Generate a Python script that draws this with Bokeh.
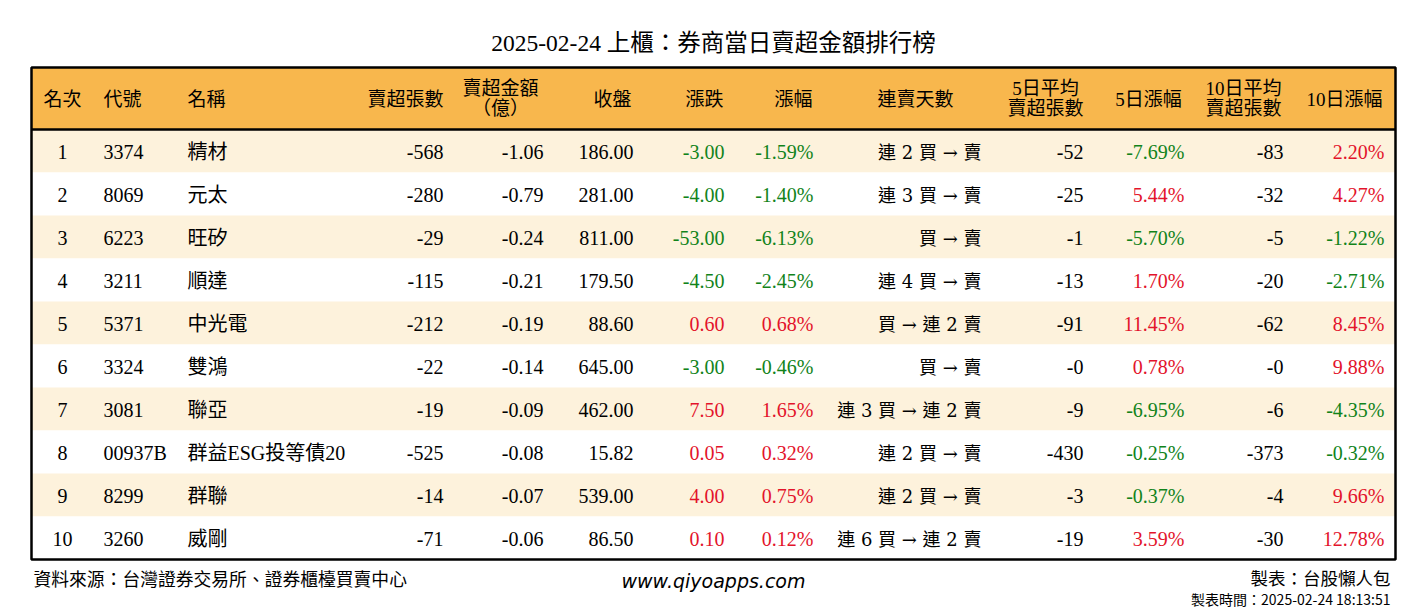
from bokeh.plotting import figure
from bokeh.models import Range1d, ColumnDataSource
from bokeh.core.properties import value
from bokeh.embed import file_html
from bokeh.resources import INLINE

title = "2025-02-24 上櫃：券商當日賣超金額排行榜"
ranks = [str(i) for i in range(1, 11)]
codes = ["3374", "8069", "6223", "3211", "5371", "3324", "3081", "00937B", "8299", "3260"]
names = ["精材", "元太", "旺矽", "順達", "中光電", "雙鴻", "聯亞", "群益ESG投等債20", "群聯", "威剛"]
sell_lots = [-568, -280, -29, -115, -212, -22, -19, -525, -14, -71]
sell_amt = [-1.06, -0.79, -0.24, -0.21, -0.19, -0.14, -0.09, -0.08, -0.07, -0.06]
close = [186.00, 281.00, 811.00, 179.50, 88.60, 645.00, 462.00, 15.82, 539.00, 86.50]
change = [-3.00, -4.00, -53.00, -4.50, 0.60, -3.00, 7.50, 0.05, 4.00, 0.10]
pct = [-1.59, -1.40, -6.13, -2.45, 0.68, -0.46, 1.65, 0.32, 0.75, 0.12]
streak = ["連 2 買 → 賣", "連 3 買 → 賣", "買 → 賣", "連 4 買 → 賣", "買 → 連 2 賣",
          "買 → 賣", "連 3 買 → 連 2 賣", "連 2 買 → 賣", "連 2 買 → 賣", "連 6 買 → 連 2 賣"]
avg5 = ["-52", "-25", "-1", "-13", "-91", "-0", "-9", "-430", "-3", "-19"]
pct5 = [-7.69, 5.44, -5.70, 1.70, 11.45, 0.78, -6.95, -0.25, -0.37, 3.59]
avg10 = ["-83", "-32", "-5", "-20", "-62", "-0", "-6", "-373", "-4", "-30"]
pct10 = [2.20, 4.27, -1.22, -2.71, 8.45, 9.88, -4.35, -0.32, 9.66, 12.78]
headers = [["名次"], ["代號"], ["名稱"], ["賣超張數"], ["賣超金額", "（億）"], ["收盤"], ["漲跌"],
           ["漲幅"], ["連賣天數"], ["5日平均", "賣超張數"], ["5日漲幅"], ["10日平均", "賣超張數"], ["10日漲幅"]]
source_note = "資料來源：台灣證券交易所、證券櫃檯買賣中心"
site = "www.qiyoapps.com"
maker = "製表：台股懶人包"
made_time = "製表時間：2025-02-24 18:13:51"

W, H = 1426, 612
FONT = value("Liberation Serif, 'Noto Sans CJK TC', serif")
STREAK_FONT = value("'DejaVu Serif', 'Noto Sans CJK TC', serif")
GREEN = "#11831a"
RED = "#e3132b"
ORANGE = "#f8b74d"
CREAM = "#fdf2dc"

# layout
tx0, tx1, ty0 = 31, 1395, 67
head_h = 62
row_h = 43
hy1 = ty0 + head_h
ty1 = hy1 + row_h * len(ranks)

# column anchor x, alignment for body, header anchor x, header alignment
cols = [
    (62, "center", 62, "center"),
    (103, "left", 103, "left"),
    (187, "left", 187, "left"),
    (443, "right", 443, "right"),
    (543, "right", 500, "center"),
    (633, "right", 612, "center"),
    (724, "right", 704, "center"),
    (813, "right", 793, "center"),
    (981, "right", 915, "center"),
    (1083, "right", 1045, "center"),
    (1184, "right", 1148, "center"),
    (1283, "right", 1243, "center"),
    (1384, "right", 1344, "center"),
]

p = figure(width=W, height=H, output_backend="svg", toolbar_location=None,
           x_range=Range1d(0, W), y_range=Range1d(H, 0), min_border=0)
p.axis.visible = False
p.grid.visible = False
p.outline_line_color = None
p.background_fill_color = "white"

# header background
p.quad(left=[tx0], right=[tx1], top=[ty0], bottom=[hy1], fill_color=ORANGE, line_color=None)

# row stripes
n = len(ranks)
tops = [hy1 + i * row_h for i in range(n)]
bots = [t + row_h for t in tops]
fills = [CREAM if i % 2 == 0 else "white" for i in range(n)]
p.quad(left=[tx0] * n, right=[tx1] * n, top=tops, bottom=bots, fill_color=fills, line_color=None)

# header bottom line & frame
p.segment(x0=[tx0], x1=[tx1], y0=[hy1], y1=[hy1], line_color="black", line_width=2.5)
p.quad(left=[tx0], right=[tx1], top=[ty0], bottom=[ty1], fill_color=None, line_color="black", line_width=2.5)

# header texts
hcy = ty0 + head_h / 2
for (bx, balign, hx, halign), lines in zip(cols, headers):
    if len(lines) == 1:
        ys = [hcy + 1]
    else:
        ys = [hcy - 10, hcy + 10]
    p.text(x=[hx] * len(lines), y=ys, text=lines, text_font=FONT, text_font_size="19px",
           text_align=halign, text_baseline="middle", text_color="black")

def signed_color(v):
    return GREEN if v < 0 else RED

row_y = [t + row_h / 2 + 1 for t in tops]
columns_text = [
    (ranks, ["black"] * n),
    (codes, ["black"] * n),
    (names, ["black"] * n),
    ([str(v) for v in sell_lots], ["black"] * n),
    ([f"{v:.2f}" for v in sell_amt], ["black"] * n),
    ([f"{v:.2f}" for v in close], ["black"] * n),
    ([f"{v:.2f}" for v in change], [signed_color(v) for v in change]),
    ([f"{v:.2f}%" for v in pct], [signed_color(v) for v in pct]),
    (streak, ["black"] * n),
    (avg5, ["black"] * n),
    ([f"{v:.2f}%" for v in pct5], [signed_color(v) for v in pct5]),
    (avg10, ["black"] * n),
    ([f"{v:.2f}%" for v in pct10], [signed_color(v) for v in pct10]),
]
for i, ((bx, balign, hx, halign), (txt, colors)) in enumerate(zip(cols, columns_text)):
    src = ColumnDataSource(dict(x=[bx] * n, y=row_y, t=txt, c=colors))
    p.text(x="x", y="y", text="t", text_color="c", source=src,
           text_font=STREAK_FONT if i == 8 else FONT,
           text_font_size="18px" if i == 8 else "20px",
           text_align=balign, text_baseline="middle")

# title
p.text(x=[713], y=[42], text=[title], text_font=FONT, text_font_size="23.5px",
       text_align="center", text_baseline="middle", text_color="black")

# footer
p.text(x=[33], y=[577], text=[source_note], text_font=value("'Noto Sans CJK TC'"), text_font_size="17.8px",
       text_align="left", text_baseline="middle", text_color="black")
p.text(x=[713], y=[580], text=[site], text_font=value("'DejaVu Sans', sans-serif"), text_font_size="19px",
       text_font_style="italic", text_align="center", text_baseline="middle", text_color="black")
p.text(x=[1390], y=[577], text=[maker], text_font=value("'Noto Sans CJK TC'"),
       text_font_size="17.5px", text_align="right", text_baseline="middle", text_color="black")
p.text(x=[1390], y=[598], text=[made_time], text_font=value("'Noto Sans CJK TC'"),
       text_font_size="14px", text_align="right", text_baseline="middle", text_color="black")

open("out.html", "w").write(file_html(p, INLINE))
